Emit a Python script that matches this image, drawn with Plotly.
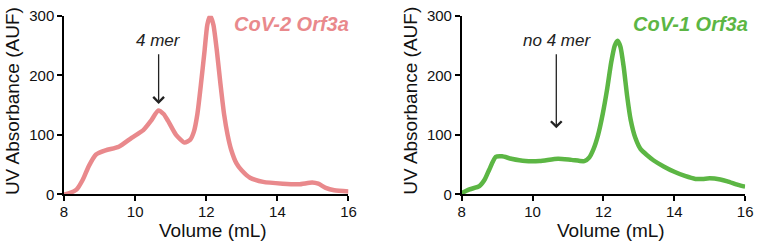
import plotly.graph_objects as go

# CoV-2 Orf3a trace (left)
cov2_x = [8.0, 8.15, 8.35, 8.53, 8.7, 8.9, 9.17, 9.54, 9.9, 10.23, 10.45, 10.65, 10.8, 10.93, 11.15, 11.39, 11.55, 11.65, 11.75, 11.85, 11.95, 12.03, 12.11, 12.2, 12.3, 12.4, 12.5, 12.6, 12.7, 12.85, 13.0, 13.23, 13.6, 14.15, 14.6, 14.98, 15.15, 15.36, 15.6, 16.0]
cov2_y = [0, 2, 8, 25, 48, 67, 74, 80, 95, 108, 124, 141, 135, 123, 100, 87, 92, 105, 135, 185, 240, 285, 300, 285, 240, 185, 135, 100, 75, 52, 40, 28, 21, 18, 17, 20, 18, 11, 7, 5]

# CoV-1 Orf3a trace (right)
cov1_x = [8.0, 8.2, 8.5, 8.65, 8.78, 8.96, 9.14, 9.4, 9.8, 10.2, 10.72, 11.1, 11.46, 11.6, 11.72, 11.85, 11.98, 12.1, 12.22, 12.32, 12.4, 12.48, 12.57, 12.67, 12.77, 12.9, 13.05, 13.25, 13.42, 13.7, 14.0, 14.3, 14.6, 14.8, 15.0, 15.3, 15.5, 15.8, 16.0]
cov1_y = [2, 8, 14, 25, 42, 63, 64, 60, 56, 56, 60, 58, 56, 62, 76, 100, 135, 175, 222, 250, 258, 248, 215, 165, 125, 95, 76, 65, 57, 47, 38, 31, 26, 26, 27, 25, 22, 16, 13]

x_ticks = [8, 10, 12, 14, 16]
y_ticks = [0, 100, 200, 300]

pink = "rgb(233,137,140)"
green = "rgb(92,182,68)"
font_family = "Liberation Sans, Arial, sans-serif"

W, H = 763, 249
def px(x):
    return x / W
def py(y):
    return (H - y) / H

fig = go.Figure()
fig.add_trace(go.Scatter(x=cov2_x, y=cov2_y, mode="lines", line=dict(color=pink, width=4.5, shape="spline", smoothing=0.6),
                         xaxis="x", yaxis="y", showlegend=False, cliponaxis=False))
fig.add_trace(go.Scatter(x=cov1_x, y=cov1_y, mode="lines", line=dict(color=green, width=4.5, shape="spline", smoothing=0.6),
                         xaxis="x2", yaxis="y2", showlegend=False, cliponaxis=False))

axis_common = dict(showgrid=False, zeroline=False, showline=True, linecolor="black", linewidth=1.5,
                   ticks="outside", ticklen=5, tickwidth=1.5, tickcolor="black",
                   ticklabeloverflow="allow",
                   tickfont=dict(family=font_family, size=15, color="#111"))

ydom = [py(199), py(7.3)]
fig.update_layout(
    width=W, height=H,
    margin=dict(l=0, r=0, t=0, b=0),
    paper_bgcolor="white", plot_bgcolor="white",
    xaxis=dict(domain=[px(61), px(350)], range=[8, 16], tickvals=x_ticks, anchor="y", ticklabelstandoff=-2, **axis_common),
    yaxis=dict(domain=ydom, range=[0, 300], tickvals=y_ticks, anchor="x", **axis_common),
    xaxis2=dict(domain=[px(465), px(753)], range=[8, 16], tickvals=x_ticks, anchor="y2", ticklabelstandoff=-2, **axis_common),
    yaxis2=dict(domain=ydom, range=[0, 300], tickvals=y_ticks, anchor="x2", **axis_common),
)

ann = []
# axis titles
for xc in [8, 413]:
    ann.append(dict(text="UV Absorbance (AUF)", xref="paper", yref="paper", x=px(xc), y=py(99),
                    showarrow=False, textangle=-90, xanchor="center", yanchor="middle",
                    font=dict(family=font_family, size=19, color="#111")))
for xc in [212, 617]:
    ann.append(dict(text="Volume (mL)", xref="paper", yref="paper", x=px(xc), y=py(237.5),
                    showarrow=False, xanchor="center", yanchor="middle",
                    font=dict(family=font_family, size=19, color="#111")))
# panel labels
ann.append(dict(text="<b><i>CoV-2 Orf3a</i></b>", xref="paper", yref="paper", x=px(353), y=py(16),
                showarrow=False, xanchor="right", yanchor="middle",
                font=dict(family=font_family, size=20, color=pink)))
ann.append(dict(text="<b><i>CoV-1 Orf3a</i></b>", xref="paper", yref="paper", x=px(758), y=py(16),
                showarrow=False, xanchor="right", yanchor="middle",
                font=dict(family=font_family, size=20, color=green)))
# arrows
ann.append(dict(x=10.66, y=152, ax=10.66, ay=238, xref="x", yref="y", axref="x", ayref="y",
                text="", showarrow=True, arrowhead=4, arrowsize=1.6, arrowwidth=1.3, arrowcolor="#222"))
ann.append(dict(x=10.67, y=111, ax=10.67, ay=238, xref="x2", yref="y2", axref="x2", ayref="y2",
                text="", showarrow=True, arrowhead=4, arrowsize=1.6, arrowwidth=1.3, arrowcolor="#222"))
ann.append(dict(text="<i>4 mer</i>", xref="x", yref="paper", x=10.66, y=py(34), showarrow=False,
                xanchor="center", yanchor="middle", font=dict(family=font_family, size=17, color="#222")))
ann.append(dict(text="<i>no 4 mer</i>", xref="x2", yref="paper", x=10.7, y=py(34), showarrow=False,
                xanchor="center", yanchor="middle", font=dict(family=font_family, size=17, color="#222")))
fig.update_layout(annotations=ann)

post = (
    "var de=document.documentElement, b=document.body;"
    "de.style.margin='0';de.style.padding='0';de.style.overflow='hidden';de.style.height='249px';"
    "b.style.margin='0';b.style.padding='0';b.style.overflow='hidden';b.style.height='249px';"
    "var gd=document.getElementById('{plot_id}');"
    "gd.style.position='absolute';gd.style.left='0px';gd.style.top='0px';"
)
fig.write_html("out.html", config={"displayModeBar": False}, post_script=post)
